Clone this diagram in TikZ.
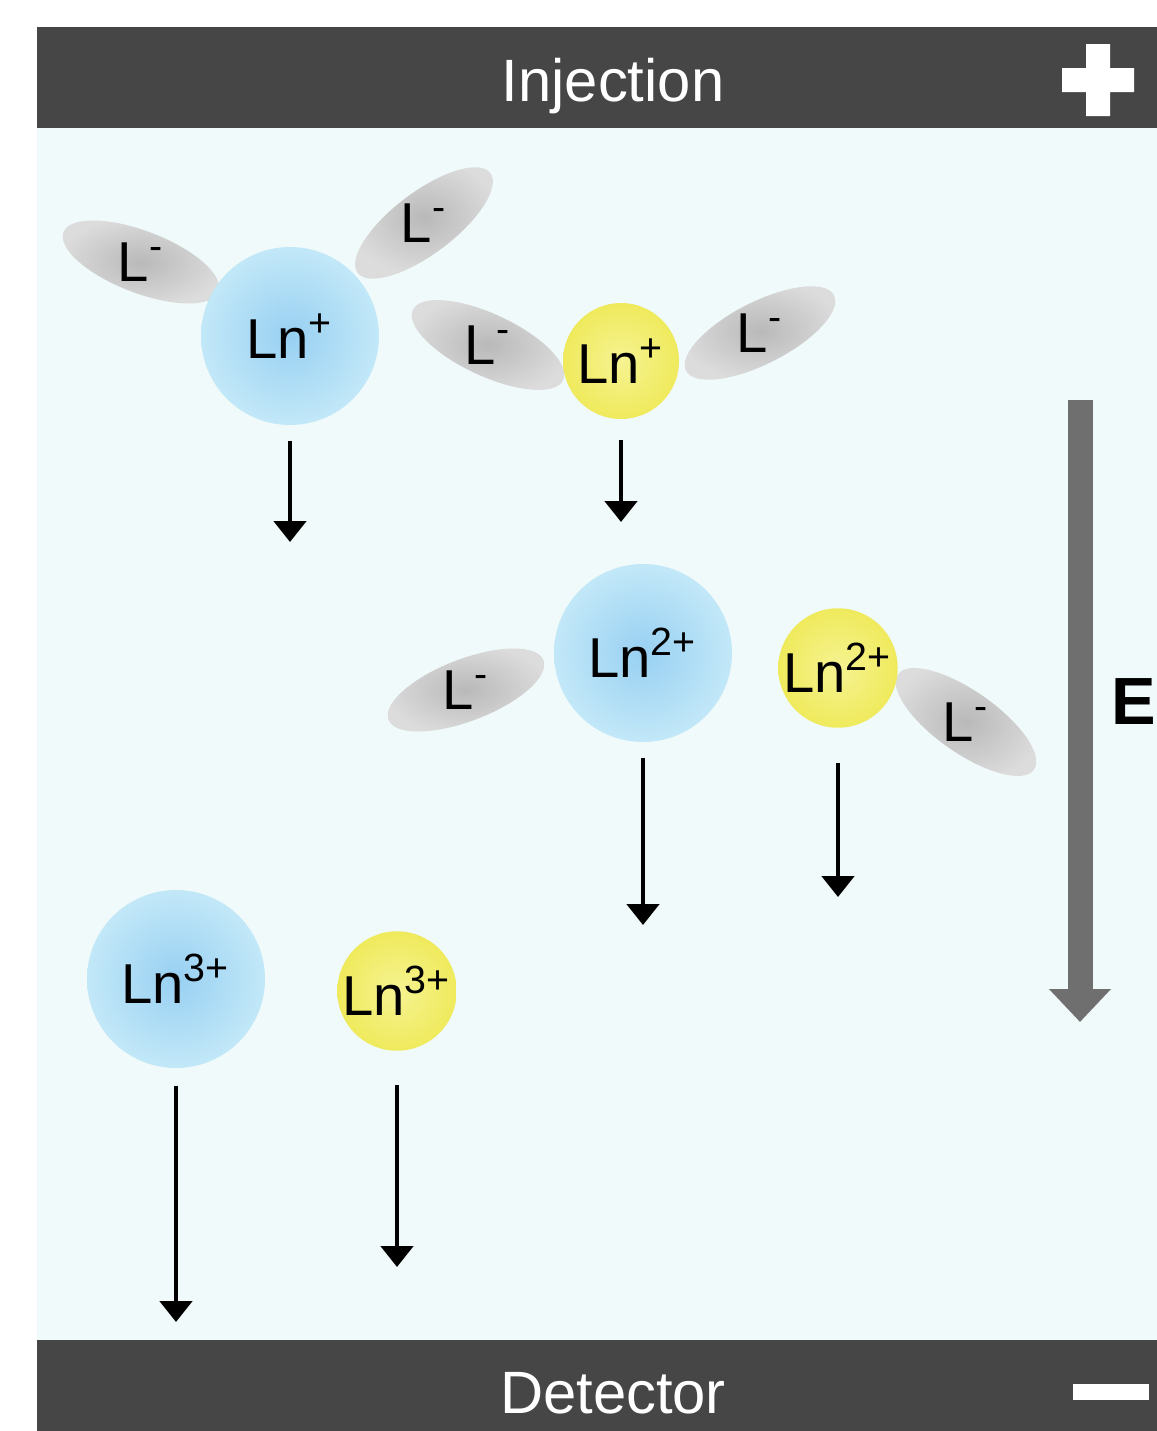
\documentclass[tikz,border=0pt]{standalone}
\usepackage{fontspec}
\setmainfont{Liberation Sans}
\usepackage{tikz}
\usetikzlibrary{calc,positioning,shapes,arrows.meta}

\definecolor{barC}{HTML}{464646}
\definecolor{bgC}{HTML}{F1FAFA}
\definecolor{blueC}{HTML}{98D0F2}
\definecolor{blueE}{HTML}{C2E8F8}
\definecolor{yelC}{HTML}{F6F392}
\definecolor{yelE}{HTML}{EFEA5C}
\definecolor{ligC}{HTML}{B9B9B9}
\definecolor{ligE}{HTML}{DCDCDC}
\definecolor{fieldC}{HTML}{6F6F6F}

\begin{document}
\begin{tikzpicture}[
		ion/.style={shape=circle,inner sep=0pt,font=\fontsize{16}{18}\selectfont},
		bigion/.style={ion,minimum size=1.78cm,shading=radial,inner color=blueC,outer color=blueE},
		smallion/.style={ion,minimum size=1.16cm,shading=radial,inner color=yelC,outer color=yelE},
		ligand/.style={shape=ellipse,minimum width=1.66cm,minimum height=0.62cm,inner sep=0pt,shading=radial,inner color=ligC,outer color=ligE},
		lab/.style={inner sep=0pt,font=\fontsize{16}{18}\selectfont},
		flow/.style={line width=1.4pt,shorten <=0.15cm,-{Triangle[width=0.32cm,length=0.21cm]}},
		field/.style={line width=0.25cm,draw=fieldC,-{Triangle[width=0.6cm,length=0.33cm]}},
		bartext/.style={text=white,inner sep=0pt,anchor=base,font=\fontsize{17}{20}\selectfont}
	]
		\useasboundingbox (0,0) rectangle (11.57,-14.31);
		% frame
		\fill[bgC] (0.37,-1.28) rectangle (11.57,-13.40);
		\fill[barC] (0.37,-0.27) rectangle (11.57,-1.28);
		\fill[barC] (0.37,-13.40) rectangle (11.57,-14.31);
		\node(inj) [bartext] at (6.13,-1.01) {Injection};
		\node(det) [bartext] at (6.13,-14.13) {Detector};
		\fill[white] (10.98,-0.80) +(-0.36,-0.12) rectangle +(0.36,0.12)
		                           +(-0.12,-0.36) rectangle +(0.12,0.36);
		\fill[white] (11.11,-13.92) +(-0.38,-0.08) rectangle +(0.38,0.08);

		% ligands
		\node(l1) [ligand,rotate=-21] at (1.41,-2.62) {};
		\node(l2) [ligand,rotate=37]  at (4.24,-2.23) {};
		\node(l3) [ligand,rotate=-25] at (4.88,-3.45) {};
		\node(l4) [ligand,rotate=27]  at (7.60,-3.33) {};
		\node(l5) [ligand,rotate=21]  at (4.66,-6.90) {};
		\node(l6) [ligand,rotate=-35] at (9.66,-7.22) {};
		\foreach \l in {l1,l2,l3,l4,l5,l6}
			\node(\l t) [lab] at (\l) {L\textsuperscript{-}};

		% ions
		\node(b1) [bigion]   at (2.90,-3.36) {Ln\textsuperscript{+}};
		\node(y1) [smallion] at (6.21,-3.61) {Ln\textsuperscript{+}};
		\node(b2) [bigion]   at (6.43,-6.53) {Ln\textsuperscript{2+}};
		\node(y2) [smallion] at (8.38,-6.68) {Ln\textsuperscript{2+}};
		\node(b3) [bigion]   at (1.76,-9.79) {Ln\textsuperscript{3+}};
		\node(y3) [smallion] at (3.97,-9.91) {Ln\textsuperscript{3+}};

		% migration
		\coordinate (tb1) at (b1 |- 0,-5.42);
		\coordinate (ty1) at (y1 |- 0,-5.22);
		\coordinate (tb2) at (b2 |- 0,-9.25);
		\coordinate (ty2) at (y2 |- 0,-8.97);
		\coordinate (tb3) at (b3 |- 0,-13.22);
		\coordinate (ty3) at (y3 |- 0,-12.67);
		\draw[flow] (b1) -- (tb1);
		\draw[flow,shorten <=0.2cm] (y1) -- (ty1);
		\draw[flow] (b2) -- (tb2);
		\draw[flow,shorten <=0.35cm] (y2) -- (ty2);
		\draw[flow,shorten <=0.17cm] (b3) -- (tb3);
		\draw[flow,shorten <=0.34cm] (y3) -- (ty3);

		% field
		\coordinate (etop) at (10.80,-4.00);
		\coordinate (ebot) at (10.80,-10.22);
		\draw[field] (etop) -- (ebot);
		\node(E) [anchor=west,inner sep=0pt,font=\bfseries\fontsize{19}{22}\selectfont] at (11.11,-7.02) {E};
	\end{tikzpicture}
\end{document}
